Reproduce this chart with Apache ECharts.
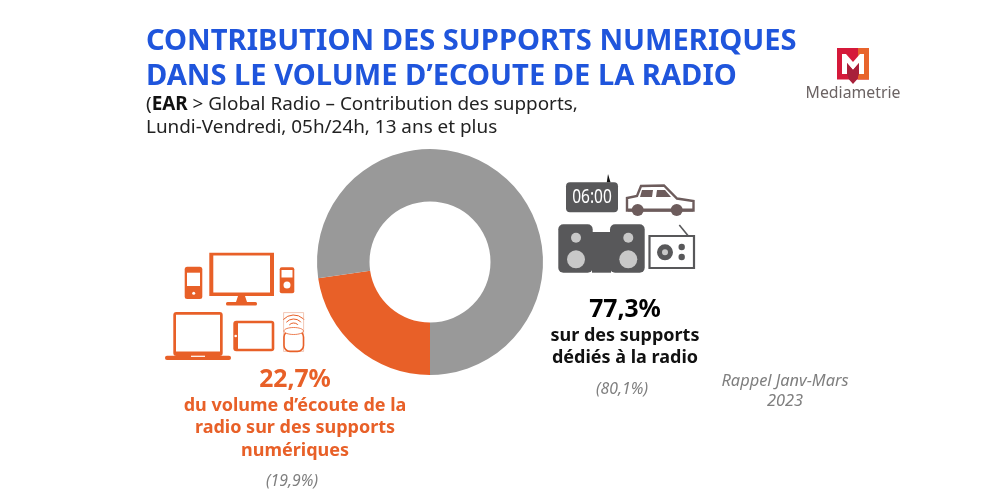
<!DOCTYPE html>
<html><head><meta charset="utf-8">
<script src="https://cdn.jsdelivr.net/npm/echarts@6/dist/echarts.min.js"></script>
<style>html,body{margin:0;padding:0;background:#fff}#c{width:985px;height:503px}</style>
</head><body><div id="c"></div>
<script>
const categories = ['Supports numériques', 'Supports dédiés à la radio'];
const shareValues = [22.7, 77.3];
const sliceColors = ['#E86028', '#999999'];
const titleLines = ['CONTRIBUTION DES SUPPORTS NUMERIQUES', 'DANS LE VOLUME D’ECOUTE DE LA RADIO'];

const F = '"Noto Sans", sans-serif';
const OR = '#E86028', DK = '#58585A', BR = '#6D5C5C', LG = '#C8C8C8';
function T(x, y, text, size, color, weight, align, style) {
  return {type:'text', z:10, style:{x, y, text, font:(style||'normal')+' '+(weight||'normal')+' '+size+'px '+F, fill:color, align:align||'left', verticalAlign:'middle'}};
}
function R(x,y,w,h,fill,r,stroke,lw){return {type:'rect',z:5,shape:{x,y,width:w,height:h,r:r||0},style:{fill:fill||'none',stroke:stroke||null,lineWidth:lw||0}};}
function C(cx,cy,r,fill,stroke,lw){return {type:'circle',z:6,shape:{cx,cy,r},style:{fill:fill||'none',stroke:stroke||null,lineWidth:lw||0}};}
function P(points,fill){return {type:'polygon',z:6,shape:{points},style:{fill}};}
function L(x1,y1,x2,y2,stroke,lw){return {type:'line',z:6,shape:{x1,y1,x2,y2},style:{stroke,lineWidth:lw}};}
function A(cx,cy,r,s,e,stroke,lw){return {type:'arc',z:6,shape:{cx,cy,r,startAngle:s,endAngle:e},style:{stroke,lineWidth:lw,fill:'none'}};}

const g = [
  T(146,42,titleLines[0],29.1,'#1F55DC','bold'),
  T(146,77,titleLines[1],29.1,'#1F55DC','bold'),
  {type:'text',z:10,style:{x:146,y:105,verticalAlign:'middle',text:'({b|EAR} > Global Radio – Contribution des supports,',rich:{b:{font:'bold 18.9px '+F,fill:'#111'}},font:'18.9px '+F,fill:'#222'}},
  T(146,128,'Lundi-Vendredi, 05h/24h, 13 ans et plus',18.9,'#222'),

  T(295,380,'22,7%',24.7,OR,'bold','center'),
  T(295,406,'du volume d’écoute de la',18,OR,'bold','center'),
  T(295,428,'radio sur des supports',18,OR,'bold','center'),
  T(295,451,'numériques',18,OR,'bold','center'),
  T(292,481,'(19,9%)',15.8,'#7F7F7F','normal','center','italic'),

  T(625,310,'77,3%',24.7,'#000','bold','center'),
  T(625,336,'sur des supports',18,'#111','bold','center'),
  T(625,358,'dédiés à la radio',18,'#111','bold','center'),
  T(622,389,'(80,1%)',15.8,'#7F7F7F','normal','center','italic'),
  T(785,381,'Rappel Janv-Mars',16.4,'#7F7F7F','normal','center','italic'),
  T(785,401,'2023',16.4,'#7F7F7F','normal','center','italic'),

  // Logo
  R(837,48,32,31.5,'#D5193A'),
  P([[858,48],[869,48],[869,79.5],[858,79.5]],'#E8642C'),
  P([[842,54],[846,54],[853,62],[860,54],[864,54],[864,74],[859,74],[859,63],[853,70],[847,63],[847,74],[842,74]],'#fff'),
  P([[847,63],[853,70],[859,63],[859,74],[857,79.5],[853,84],[849,79.5],[847,74]],'#A8203A'),
  T(853,93,'Mediametrie',15.8,'#6B6363','normal','center'),

  // Digital devices
  R(209.3,252.7,64.7,43.3,OR),
  R(213.3,255.5,56.7,37,'#fff'),
  P([[238,296],[245,296],[247,302],[236,302]],OR),
  R(226,302,31,3.6,OR,1.5),
  R(184.7,266.7,17.6,32.3,OR,2.5),
  R(187,272.7,13,13.3,'#fff'),
  C(193.7,293.3,1.5,'#fff'),
  R(279.7,267.3,14.6,26,OR,2),
  R(281.5,270,11,7.5,'#fff'),
  C(287,285,4.8,'#fff',OR,2.6),
  R(173.3,312,49.4,44,OR,3),
  R(176,314.7,44,36.9,'#fff'),
  R(165,355.7,66,4.3,OR,2),
  R(191,355.7,14,1.2,'#fff'),
  R(233.3,320.7,41,30.6,OR,3),
  R(238,323.3,33.7,25.4,'#fff'),
  C(235.7,336,1.3,'#fff'),
  R(283.6,312.6,20,38.8,'#fff',0,'#E9A284',0.6),
  A(293.7,329,14,-2.4,-0.75,OR,1),
  A(293.7,329,10,-2.4,-0.75,OR,1),
  A(293.7,329,6,-2.4,-0.75,OR,1),
  R(284,331,19.5,20.4,'#fff',6,OR,1.6),
  {type:'ellipse',z:7,shape:{cx:293.7,cy:331,rx:9.7,ry:3.5},style:{fill:'#fff',stroke:OR,lineWidth:0.8}},

  // Radio devices
  P([[606.8,182.3],[608,174],[610.5,182.3]],'#111'),
  R(566,182.3,52,30,DK,4),
  {type:'text',z:10,x:592,y:197.5,scaleX:1,scaleY:1.25,style:{x:0,y:0,text:'06:00',font:'15.5px '+F,fill:'#fff',align:'center',verticalAlign:'middle'}},
  // car
  {type:'polygon',z:5,shape:{points:[[627,210.5],[627,198],[637,196],[641,186],[664,185.5],[677,198.5],[693.5,201],[693.5,210.5]]},style:{fill:'#fff',stroke:BR,lineWidth:2.4}},
  R(628,208.5,65,3,BR),
  P([[642,190],[653,190],[652,197],[640,197]],BR),
  P([[657,190],[665,190],[671,197],[656,197]],BR),
  C(637.7,210,6,BR),
  C(676.7,210,6,BR),
  // speakers
  R(558.3,224.3,34.4,48.4,DK,5),
  R(592,232,19,40.7,DK,0),
  R(610,224.3,34.7,48.4,DK,5),
  C(576,237.7,5,LG),C(576,259.3,9,LG),
  C(628.3,237.7,5,LG),C(628.3,259.3,9,LG),
  // radio
  L(679.3,225,688.3,236,DK,1.6),
  R(649.5,236,44.5,32,'#fff',0,DK,2.2),
  C(665,252.3,5.5,LG,DK,5),
  C(681.7,247,3.2,DK),C(681.7,257,3.2,DK)
];

const chart = echarts.init(document.getElementById('c'),null,{renderer:'canvas'});
chart.setOption({
  animation:false,
  backgroundColor:'#fff',
  color:sliceColors,
  series:[{
    type:'pie',
    center:[430,262],
    radius:[60.5,113],
    startAngle:-90,
    clockwise:true,
    label:{show:false},labelLine:{show:false},
    emphasis:{disabled:true},
    itemStyle:{borderWidth:0},
    data:categories.map((name,i)=>({name,value:shareValues[i]}))
  }],
  graphic:{elements:g}
});
</script></body></html>
